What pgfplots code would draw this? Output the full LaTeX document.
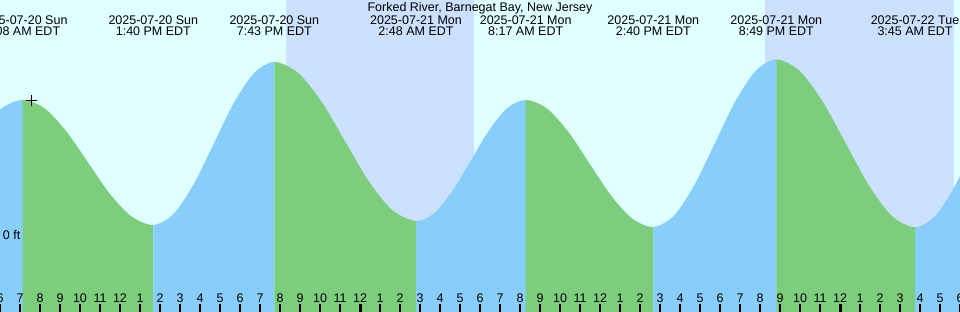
\documentclass[border=0pt]{standalone}
\usepackage{pgfplots}
\pgfplotsset{compat=1.18}
\usepgfplotslibrary{fillbetween}
\usepackage{fontspec}
\setmainfont{Liberation Sans}
\definecolor{dayc}{RGB}{224,255,255}
\definecolor{nightc}{RGB}{204,224,255}
\definecolor{risec}{RGB}{135,206,250}
\definecolor{fallc}{RGB}{124,205,124}
\begin{document}
\begin{tikzpicture}
\begin{axis}[
  at={(0,0)}, anchor=south west,
  scale only axis, width=960pt, height=312pt,
  xmin=6.0, xmax=54.0, ymin=-0.304, ymax=0.944,
  font=\fontsize{12.5}{14}\selectfont,
  /pgf/number format/assume math mode=true,
  axis background/.style={fill=dayc},
  axis line style={draw=none},
  axis on top=true,
  fill between/on layer=main,
  ytick=\empty,
  xtick={6,...,54},
  xticklabels={6,7,8,9,10,11,12,1,2,3,4,5,6,7,8,9,10,11,12,1,2,3,4,5,6,7,8,9,10,11,12,1,2,3,4,5,6,7,8,9,10,11,12,1,2,3,4,5,6},
  xtick pos=bottom, tick align=inside,
  major tick length=8pt,
  major tick style={black, line width=1.5pt},
  xticklabel style={anchor=base, yshift=9.7pt, text=black},
  extra x ticks={24,48},
  extra x tick labels={,},
  extra x tick style={major tick style={black, line width=3pt}},
]
% night shading
\addplot[fill=nightc, draw=none] coordinates {(20.3,-0.4) (20.3,1.0) (29.7,1.0) (29.7,-0.4)} -- cycle;
\addplot[fill=nightc, draw=none] coordinates {(44.25,-0.4) (44.25,1.0) (53.7,1.0) (53.7,-0.4)} -- cycle;
% water level (ft) vs hours since 2025-07-20 00:00 EDT
\addplot[name path=tide, draw=none, smooth] coordinates {
 (4.017,0.300) (5.055,0.422) (6.094,0.511) (7.133,0.544)
 (8.222,0.511) (9.311,0.419) (10.400,0.294) (11.489,0.169) (12.578,0.078) (13.667,0.044)
 (14.675,0.088) (15.683,0.207) (16.692,0.370) (17.700,0.533) (18.708,0.652) (19.717,0.696)
 (20.897,0.653) (22.078,0.537) (23.258,0.378) (24.439,0.219) (25.619,0.103) (26.800,0.060)
 (27.714,0.092) (28.628,0.181) (29.542,0.302) (30.455,0.423) (31.369,0.512) (32.283,0.544)
 (33.347,0.510) (34.411,0.417) (35.475,0.290) (36.539,0.163) (37.603,0.070) (38.667,0.036)
 (39.692,0.081) (40.717,0.204) (41.742,0.371) (42.767,0.539) (43.792,0.661) (44.817,0.706)
 (45.973,0.661) (47.128,0.538) (48.284,0.371) (49.439,0.203) (50.594,0.080) (51.750,0.035)
 (52.775,0.081) (53.800,0.208) (54.825,0.382) (55.850,0.555)
};
\addplot[name path=bottom, draw=none] coordinates {(0,-0.4) (60,-0.4)};
\addplot[risec] fill between[of=tide and bottom, soft clip={domain=0:7.14}];
\addplot[fallc] fill between[of=tide and bottom, soft clip={domain=7.133:13.67}];
\addplot[risec] fill between[of=tide and bottom, soft clip={domain=13.667:19.72}];
\addplot[fallc] fill between[of=tide and bottom, soft clip={domain=19.717:26.81}];
\addplot[risec] fill between[of=tide and bottom, soft clip={domain=26.8:32.29}];
\addplot[fallc] fill between[of=tide and bottom, soft clip={domain=32.283:38.67}];
\addplot[risec] fill between[of=tide and bottom, soft clip={domain=38.667:44.82}];
\addplot[fallc] fill between[of=tide and bottom, soft clip={domain=44.817:51.76}];
\addplot[risec] fill between[of=tide and bottom, soft clip={domain=51.75:60}];
% current time mark
\addplot[only marks, mark=+, mark size=5.5pt, black, mark options={line width=1pt}] coordinates {(7.55,0.54)};
% labels
\node[anchor=base, yshift=-12pt] at (rel axis cs:0.5,1) {Forked River, Barnegat Bay, New Jersey};
\node[anchor=base, yshift=-24.3pt] at (axis cs:7.133,0.944) {2025-07-20 Sun};
\node[anchor=base, yshift=-36pt] at (axis cs:7.133,0.944) {7:08 AM EDT};
\node[anchor=base, yshift=-24.3pt] at (axis cs:13.667,0.944) {2025-07-20 Sun};
\node[anchor=base, yshift=-36pt] at (axis cs:13.667,0.944) {1:40 PM EDT};
\node[anchor=base, yshift=-24.3pt] at (axis cs:19.717,0.944) {2025-07-20 Sun};
\node[anchor=base, yshift=-36pt] at (axis cs:19.717,0.944) {7:43 PM EDT};
\node[anchor=base, yshift=-24.3pt] at (axis cs:26.8,0.944) {2025-07-21 Mon};
\node[anchor=base, yshift=-36pt] at (axis cs:26.8,0.944) {2:48 AM EDT};
\node[anchor=base, yshift=-24.3pt] at (axis cs:32.283,0.944) {2025-07-21 Mon};
\node[anchor=base, yshift=-36pt] at (axis cs:32.283,0.944) {8:17 AM EDT};
\node[anchor=base, yshift=-24.3pt] at (axis cs:38.667,0.944) {2025-07-21 Mon};
\node[anchor=base, yshift=-36pt] at (axis cs:38.667,0.944) {2:40 PM EDT};
\node[anchor=base, yshift=-24.3pt] at (axis cs:44.817,0.944) {2025-07-21 Mon};
\node[anchor=base, yshift=-36pt] at (axis cs:44.817,0.944) {8:49 PM EDT};
\node[anchor=base, yshift=-24.3pt] at (axis cs:51.75,0.944) {2025-07-22 Tue};
\node[anchor=base, yshift=-36pt] at (axis cs:51.75,0.944) {3:45 AM EDT};
\node[anchor=base west, inner sep=0pt, xshift=2.7pt, yshift=-3.5pt] at (axis cs:6.0,0) {0 ft};
\end{axis}
\pgfresetboundingbox
\useasboundingbox (0,0) rectangle (960pt,312pt);
\end{tikzpicture}
\end{document}
